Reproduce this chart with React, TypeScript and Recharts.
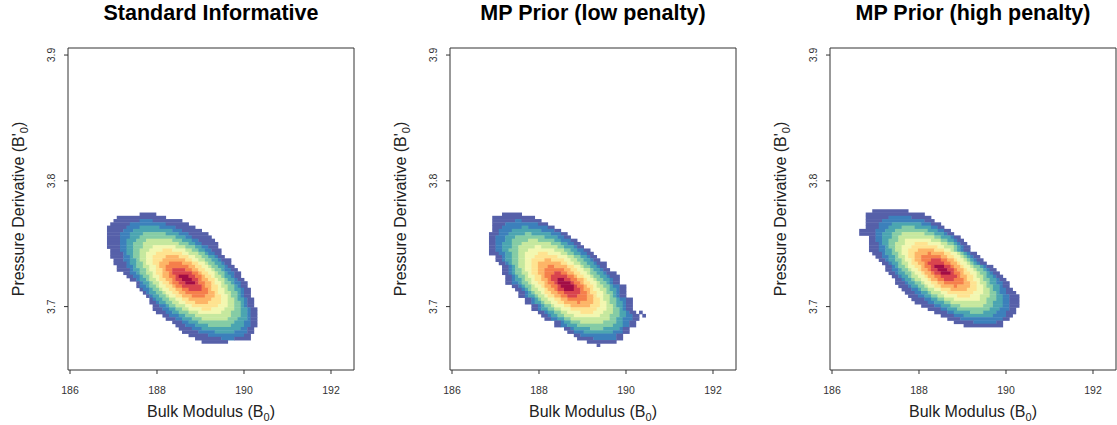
import { ScatterChart, Scatter, XAxis, YAxis, ReferenceArea } from "recharts";

const X_TICKS = [186, 188, 190, 192];
const Y_TICKS = [3.7, 3.8, 3.9];
const TITLES = ["Standard Informative", "MP Prior (low penalty)", "MP Prior (high penalty)"];

// reversed Spectral ramp, low density -> high density
const LEVEL_COLORS = [
  "#5660a9",
  "#3c80bb",
  "#4ba5b1",
  "#85cca5",
  "#c6e89e",
  "#f2f7b0",
  "#fee390",
  "#fdb567",
  "#f57f4b",
  "#d9444d",
  "#a20d45",
];

// bins of the 2d density image (left edge of col 0, top edge of row 0)
const GRID_X0 = 186.55;
const GRID_DX = 0.075;
const GRID_Y0 = 3.78;
const GRID_DY = 0.0026;

// [row, first col, [level, run length, level, run length, ...]]  level 0 = empty
type Row = [number, number, number[]];

const STANDARD_ROWS: Row[] = [
  [2, 14, [1, 5]],
  [3, 7, [1, 15]],
  [4, 6, [1, 8, 2, 4, 1, 9]],
  [5, 5, [1, 6, 2, 11, 1, 7]],
  [6, 4, [1, 6, 2, 4, 3, 6, 2, 5, 1, 6]],
  [7, 4, [1, 5, 2, 3, 3, 12, 2, 3, 1, 6]],
  [8, 4, [1, 4, 2, 3, 3, 4, 4, 7, 3, 4, 2, 3, 1, 6]],
  [9, 4, [1, 4, 2, 3, 3, 3, 4, 11, 3, 3, 2, 2, 1, 6]],
  [10, 4, [1, 4, 2, 2, 3, 3, 4, 3, 5, 8, 4, 3, 3, 3, 2, 2, 1, 5]],
  [11, 4, [1, 4, 2, 2, 3, 2, 4, 3, 5, 11, 4, 3, 3, 2, 2, 2, 1, 5]],
  [12, 4, [1, 4, 2, 2, 3, 2, 4, 3, 5, 3, 6, 7, 5, 3, 4, 3, 3, 2, 2, 2, 1, 3]],
  [13, 5, [1, 3, 2, 2, 3, 2, 4, 2, 5, 3, 6, 4, 7, 3, 6, 4, 5, 2, 4, 2, 3, 2, 2, 2, 1, 3]],
  [14, 5, [1, 4, 2, 1, 3, 2, 4, 2, 5, 2, 6, 3, 7, 8, 6, 2, 5, 3, 4, 2, 3, 1, 2, 2, 1, 2]],
  [15, 5, [1, 4, 2, 2, 3, 1, 4, 2, 5, 2, 6, 2, 7, 4, 8, 4, 7, 3, 6, 2, 5, 2, 4, 2, 3, 2, 2, 1, 1, 2]],
  [16, 6, [1, 3, 2, 2, 3, 2, 4, 1, 5, 2, 6, 2, 7, 3, 8, 7, 7, 2, 6, 2, 5, 2, 4, 2, 3, 2, 2, 1, 1, 3]],
  [17, 6, [1, 4, 2, 1, 3, 2, 4, 2, 5, 1, 6, 2, 7, 2, 8, 3, 9, 4, 8, 3, 7, 2, 6, 2, 5, 1, 4, 2, 3, 2, 2, 1, 1, 2]],
  [18, 7, [1, 3, 2, 2, 3, 1, 4, 2, 5, 2, 6, 2, 7, 1, 8, 2, 9, 7, 8, 2, 7, 2, 6, 2, 5, 1, 4, 2, 3, 2, 2, 1, 1, 2]],
  [19, 7, [1, 4, 2, 1, 3, 2, 4, 2, 5, 1, 6, 2, 7, 2, 8, 1, 9, 2, 10, 4, 9, 2, 8, 2, 7, 2, 6, 2, 5, 1, 4, 2, 3, 1, 2, 2, 1, 2]],
  [20, 9, [1, 2, 2, 2, 3, 1, 4, 2, 5, 2, 6, 1, 7, 2, 8, 2, 9, 1, 10, 6, 9, 2, 8, 1, 7, 2, 6, 2, 5, 1, 4, 2, 3, 1, 2, 2, 1, 2]],
  [21, 10, [1, 2, 2, 2, 3, 1, 4, 2, 5, 1, 6, 2, 7, 1, 8, 2, 9, 2, 10, 1, 11, 3, 10, 2, 9, 2, 8, 1, 7, 2, 6, 1, 5, 2, 4, 1, 3, 2, 2, 1, 1, 2]],
  [22, 11, [1, 2, 2, 1, 3, 2, 4, 1, 5, 2, 6, 1, 7, 2, 8, 2, 9, 1, 10, 2, 11, 3, 10, 2, 9, 1, 8, 2, 7, 2, 6, 1, 5, 2, 4, 1, 3, 2, 2, 1, 1, 2]],
  [23, 13, [1, 1, 2, 1, 3, 2, 4, 1, 5, 2, 6, 1, 7, 2, 8, 1, 9, 2, 10, 2, 11, 3, 10, 1, 9, 2, 8, 2, 7, 1, 6, 2, 5, 1, 4, 2, 3, 1, 2, 2, 1, 2]],
  [24, 13, [1, 1, 2, 2, 3, 1, 4, 2, 5, 1, 6, 2, 7, 2, 8, 1, 9, 2, 10, 6, 9, 1, 8, 2, 7, 2, 6, 1, 5, 2, 4, 2, 3, 1, 2, 1, 1, 2]],
  [25, 14, [1, 1, 2, 2, 3, 1, 4, 2, 5, 1, 6, 2, 7, 2, 8, 2, 9, 2, 10, 4, 9, 2, 8, 1, 7, 2, 6, 2, 5, 1, 4, 2, 3, 2, 2, 1, 1, 2]],
  [26, 15, [1, 1, 2, 1, 3, 2, 4, 2, 5, 1, 6, 2, 7, 2, 8, 2, 9, 7, 8, 2, 7, 1, 6, 2, 5, 2, 4, 2, 3, 1, 2, 1, 1, 2]],
  [27, 16, [1, 1, 2, 1, 3, 2, 4, 2, 5, 1, 6, 2, 7, 2, 8, 3, 9, 4, 8, 3, 7, 2, 6, 2, 5, 1, 4, 2, 3, 1, 2, 1, 1, 2]],
  [28, 17, [1, 1, 2, 1, 3, 2, 4, 2, 5, 2, 6, 2, 7, 2, 8, 7, 7, 3, 6, 2, 5, 2, 4, 1, 3, 2, 2, 1, 1, 2]],
  [29, 17, [1, 2, 2, 1, 3, 2, 4, 2, 5, 2, 6, 2, 7, 3, 8, 4, 7, 4, 6, 2, 5, 2, 4, 2, 3, 1, 2, 1, 1, 2]],
  [30, 18, [1, 2, 2, 2, 3, 1, 4, 2, 5, 3, 6, 2, 7, 8, 6, 3, 5, 2, 4, 2, 3, 1, 2, 1, 1, 2]],
  [31, 18, [1, 3, 2, 2, 3, 2, 4, 2, 5, 2, 6, 4, 7, 3, 6, 4, 5, 3, 4, 2, 3, 2, 2, 1, 1, 2]],
  [32, 19, [1, 3, 2, 2, 3, 2, 4, 3, 5, 3, 6, 7, 5, 3, 4, 3, 3, 2, 2, 1, 1, 2]],
  [33, 21, [1, 2, 2, 3, 3, 2, 4, 3, 5, 11, 4, 3, 3, 2, 2, 1, 1, 2]],
  [34, 22, [1, 3, 2, 2, 3, 3, 4, 3, 5, 8, 4, 3, 3, 3, 2, 1, 1, 2]],
  [35, 24, [1, 3, 2, 2, 3, 3, 4, 11, 3, 3, 2, 2, 1, 2]],
  [36, 25, [1, 3, 2, 3, 3, 4, 4, 7, 3, 4, 2, 2, 1, 2]],
  [37, 26, [1, 4, 2, 3, 3, 12, 2, 2, 1, 2]],
  [38, 27, [1, 5, 2, 5, 3, 6, 2, 4, 1, 2]],
  [39, 29, [1, 6, 2, 11, 1, 2]],
  [40, 31, [1, 8, 2, 4, 1, 5]],
  [41, 33, [1, 8]],
];

const LOW_PENALTY_ROWS: Row[] = [
  [2, 8, [1, 6]],
  [3, 5, [1, 13]],
  [4, 5, [1, 7, 2, 2, 1, 6]],
  [5, 5, [1, 4, 2, 10, 1, 3]],
  [6, 5, [1, 3, 2, 6, 3, 2, 2, 6, 1, 2]],
  [7, 5, [1, 2, 2, 4, 3, 9, 2, 4, 1, 2]],
  [8, 4, [1, 3, 2, 3, 3, 5, 4, 2, 3, 6, 2, 3, 1, 2]],
  [9, 4, [1, 2, 2, 3, 3, 3, 4, 9, 3, 4, 2, 2, 1, 2]],
  [10, 4, [1, 2, 2, 3, 3, 2, 4, 5, 5, 3, 4, 5, 3, 2, 2, 3, 1, 2]],
  [11, 4, [1, 2, 2, 2, 3, 3, 4, 3, 5, 9, 4, 3, 3, 2, 2, 2, 1, 2]],
  [12, 4, [1, 2, 2, 2, 3, 3, 4, 2, 5, 5, 6, 2, 5, 5, 4, 2, 3, 3, 2, 1, 1, 2]],
  [13, 4, [1, 2, 2, 2, 3, 2, 4, 3, 5, 3, 6, 8, 5, 3, 4, 2, 3, 2, 2, 2, 1, 2]],
  [14, 4, [1, 3, 2, 2, 3, 2, 4, 2, 5, 2, 6, 4, 7, 3, 6, 4, 5, 2, 4, 2, 3, 2, 2, 2, 1, 2]],
  [15, 6, [1, 2, 2, 1, 3, 2, 4, 2, 5, 2, 6, 3, 7, 7, 6, 3, 5, 2, 4, 2, 3, 2, 2, 1, 1, 2]],
  [16, 6, [1, 2, 2, 1, 3, 2, 4, 2, 5, 2, 6, 2, 7, 4, 8, 2, 7, 4, 6, 2, 5, 2, 4, 2, 3, 2, 2, 1, 1, 2]],
  [17, 7, [1, 2, 2, 1, 3, 1, 4, 2, 5, 2, 6, 2, 7, 2, 8, 7, 7, 2, 6, 2, 5, 2, 4, 2, 3, 2, 2, 1, 1, 3]],
  [18, 8, [1, 2, 2, 1, 3, 1, 4, 1, 5, 2, 6, 2, 7, 2, 8, 3, 9, 2, 8, 4, 7, 2, 6, 2, 5, 1, 4, 2, 3, 2, 2, 1, 1, 2]],
  [19, 8, [1, 2, 2, 1, 3, 1, 4, 2, 5, 1, 6, 2, 7, 2, 8, 2, 9, 6, 8, 2, 7, 2, 6, 2, 5, 2, 4, 1, 3, 2, 2, 1, 1, 2]],
  [20, 8, [1, 2, 2, 1, 3, 1, 4, 2, 5, 2, 6, 1, 7, 2, 8, 2, 9, 3, 10, 2, 9, 2, 8, 2, 7, 2, 6, 2, 5, 1, 4, 2, 3, 2, 2, 1, 1, 3]],
  [21, 9, [1, 2, 2, 1, 3, 1, 4, 2, 5, 1, 6, 2, 7, 2, 8, 1, 9, 2, 10, 5, 9, 2, 8, 1, 7, 2, 6, 2, 5, 1, 4, 2, 3, 2, 2, 1, 1, 3]],
  [22, 9, [1, 2, 2, 1, 3, 2, 4, 1, 5, 2, 6, 1, 7, 2, 8, 2, 9, 1, 10, 2, 11, 2, 10, 2, 9, 2, 8, 2, 7, 1, 6, 2, 5, 1, 4, 2, 3, 2, 2, 1, 1, 2]],
  [23, 9, [1, 2, 2, 2, 3, 1, 4, 2, 5, 1, 6, 2, 7, 2, 8, 1, 9, 2, 10, 1, 11, 4, 10, 1, 9, 2, 8, 1, 7, 2, 6, 2, 5, 1, 4, 2, 3, 1, 2, 1, 1, 2]],
  [24, 11, [1, 2, 2, 1, 3, 1, 4, 2, 5, 1, 6, 2, 7, 1, 8, 2, 9, 2, 10, 1, 11, 4, 10, 1, 9, 2, 8, 1, 7, 2, 6, 1, 5, 2, 4, 2, 3, 1, 2, 2, 1, 2]],
  [25, 12, [1, 2, 2, 1, 3, 1, 4, 1, 5, 2, 6, 2, 7, 1, 8, 2, 9, 1, 10, 2, 11, 3, 10, 2, 9, 1, 8, 2, 7, 1, 6, 2, 5, 2, 4, 1, 3, 2, 2, 1, 1, 2]],
  [26, 13, [1, 2, 2, 1, 3, 1, 4, 1, 5, 2, 6, 1, 7, 2, 8, 2, 9, 2, 10, 5, 9, 2, 8, 1, 7, 2, 6, 2, 5, 1, 4, 2, 3, 1, 2, 1, 1, 2]],
  [27, 13, [1, 2, 2, 1, 3, 2, 4, 1, 5, 2, 6, 1, 7, 2, 8, 2, 9, 2, 10, 3, 9, 3, 8, 2, 7, 1, 6, 2, 5, 2, 4, 1, 3, 1, 2, 1, 1, 2]],
  [28, 15, [1, 2, 2, 1, 3, 1, 4, 1, 5, 2, 6, 2, 7, 2, 8, 2, 9, 6, 8, 2, 7, 2, 6, 1, 5, 2, 4, 2, 3, 1, 2, 2, 1, 2]],
  [29, 15, [1, 2, 2, 1, 3, 2, 4, 1, 5, 2, 6, 2, 7, 2, 8, 4, 9, 1, 8, 4, 7, 2, 6, 2, 5, 1, 4, 2, 3, 2, 2, 1, 1, 2]],
  [30, 17, [1, 2, 2, 1, 3, 1, 4, 2, 5, 1, 6, 3, 7, 2, 8, 6, 7, 3, 6, 2, 5, 2, 4, 1, 3, 2, 2, 1, 1, 2]],
  [31, 17, [1, 2, 2, 1, 3, 2, 4, 2, 5, 2, 6, 3, 7, 8, 6, 3, 5, 2, 4, 2, 3, 1, 2, 1, 1, 2]],
  [32, 19, [1, 2, 2, 1, 3, 2, 4, 2, 5, 2, 6, 4, 7, 4, 6, 3, 5, 3, 4, 2, 3, 2, 2, 1, 1, 2, 0, 1, 1, 1]],
  [33, 20, [1, 2, 2, 1, 3, 2, 4, 2, 5, 3, 6, 8, 5, 3, 4, 3, 3, 2, 2, 2, 1, 2, 0, 1, 1, 1]],
  [34, 21, [1, 2, 2, 2, 3, 2, 4, 2, 5, 12, 4, 2, 3, 2, 2, 3, 1, 2]],
  [35, 24, [1, 2, 2, 1, 3, 2, 4, 3, 5, 7, 4, 4, 3, 2, 2, 2, 1, 2]],
  [36, 24, [1, 2, 2, 2, 3, 3, 4, 11, 3, 3, 2, 2, 1, 2]],
  [37, 27, [1, 2, 2, 1, 3, 5, 4, 4, 3, 5, 2, 1, 1, 2]],
  [38, 28, [1, 2, 2, 3, 3, 9, 2, 3, 1, 2]],
  [39, 30, [1, 2, 2, 11, 1, 2]],
  [40, 31, [1, 5, 2, 7, 1, 2]],
  [41, 34, [1, 9]],
  [42, 37, [1, 1]],
];

const HIGH_PENALTY_ROWS: Row[] = [
  [1, 5, [1, 11]],
  [2, 3, [1, 18]],
  [3, 3, [1, 7, 2, 7, 1, 6]],
  [4, 3, [1, 5, 2, 13, 1, 3]],
  [5, 3, [1, 4, 2, 4, 3, 9, 2, 3, 1, 3]],
  [6, 3, [1, 4, 2, 3, 3, 4, 4, 4, 3, 5, 2, 2, 1, 2]],
  [7, 1, [1, 5, 2, 3, 3, 3, 4, 10, 3, 3, 2, 2, 1, 2]],
  [8, 1, [1, 5, 2, 2, 3, 3, 4, 3, 5, 7, 4, 3, 3, 3, 2, 1, 1, 2]],
  [9, 4, [1, 2, 2, 2, 3, 3, 4, 2, 5, 11, 4, 2, 3, 3, 2, 1, 1, 2]],
  [10, 4, [1, 2, 2, 2, 3, 2, 4, 3, 5, 2, 6, 8, 5, 3, 4, 2, 3, 2, 2, 1, 1, 2]],
  [11, 4, [1, 3, 2, 1, 3, 2, 4, 2, 5, 3, 6, 3, 7, 4, 6, 4, 5, 2, 4, 2, 3, 1, 2, 1, 1, 2]],
  [12, 4, [1, 3, 2, 2, 3, 1, 4, 2, 5, 2, 6, 3, 7, 8, 6, 2, 5, 3, 4, 1, 3, 1, 2, 1, 1, 2]],
  [13, 4, [1, 3, 2, 2, 3, 2, 4, 1, 5, 2, 6, 2, 7, 3, 8, 5, 7, 3, 6, 2, 5, 1, 4, 1, 3, 1, 2, 1, 1, 2]],
  [14, 5, [1, 3, 2, 1, 3, 2, 4, 2, 5, 1, 6, 2, 7, 2, 8, 4, 9, 1, 8, 4, 7, 2, 6, 2, 5, 1, 4, 1, 3, 1, 2, 1, 1, 2]],
  [15, 6, [1, 2, 2, 2, 3, 2, 4, 1, 5, 2, 6, 1, 7, 2, 8, 2, 9, 6, 8, 2, 7, 2, 6, 2, 5, 1, 4, 1, 3, 1, 2, 1, 1, 2]],
  [16, 7, [1, 2, 2, 1, 3, 2, 4, 2, 5, 1, 6, 2, 7, 1, 8, 2, 9, 3, 10, 3, 9, 2, 8, 2, 7, 1, 6, 2, 5, 1, 4, 1, 3, 1, 2, 1, 1, 2]],
  [17, 8, [1, 2, 2, 1, 3, 2, 4, 1, 5, 2, 6, 1, 7, 2, 8, 2, 9, 1, 10, 5, 9, 2, 8, 2, 7, 1, 6, 2, 5, 1, 4, 1, 3, 1, 2, 1, 1, 2]],
  [18, 9, [1, 2, 2, 1, 3, 1, 4, 2, 5, 1, 6, 2, 7, 2, 8, 1, 9, 2, 10, 1, 11, 3, 10, 2, 9, 1, 8, 2, 7, 1, 6, 2, 5, 1, 4, 2, 3, 1, 2, 1, 1, 2]],
  [19, 9, [1, 2, 2, 2, 3, 1, 4, 2, 5, 1, 6, 2, 7, 1, 8, 2, 9, 1, 10, 2, 11, 3, 10, 2, 9, 1, 8, 2, 7, 1, 6, 2, 5, 1, 4, 2, 3, 1, 2, 1, 1, 2]],
  [20, 10, [1, 2, 2, 1, 3, 2, 4, 2, 5, 1, 6, 2, 7, 1, 8, 2, 9, 1, 10, 2, 11, 3, 10, 1, 9, 2, 8, 1, 7, 2, 6, 2, 5, 1, 4, 2, 3, 1, 2, 1, 1, 2]],
  [21, 11, [1, 2, 2, 1, 3, 2, 4, 1, 5, 2, 6, 2, 7, 1, 8, 2, 9, 2, 10, 5, 9, 1, 8, 2, 7, 2, 6, 1, 5, 2, 4, 1, 3, 2, 2, 1, 1, 2]],
  [22, 12, [1, 2, 2, 1, 3, 2, 4, 1, 5, 2, 6, 2, 7, 1, 8, 2, 9, 2, 10, 3, 9, 3, 8, 1, 7, 2, 6, 2, 5, 1, 4, 2, 3, 2, 2, 1, 1, 2]],
  [23, 12, [1, 3, 2, 1, 3, 2, 4, 2, 5, 1, 6, 2, 7, 2, 8, 2, 9, 6, 8, 2, 7, 2, 6, 1, 5, 2, 4, 1, 3, 2, 2, 2, 1, 2]],
  [24, 13, [1, 3, 2, 1, 3, 2, 4, 2, 5, 1, 6, 2, 7, 2, 8, 4, 9, 1, 8, 4, 7, 2, 6, 2, 5, 1, 4, 2, 3, 2, 2, 1, 1, 2]],
  [25, 14, [1, 3, 2, 2, 3, 1, 4, 2, 5, 2, 6, 2, 7, 3, 8, 5, 7, 3, 6, 2, 5, 2, 4, 1, 3, 2, 2, 2, 1, 2]],
  [26, 15, [1, 3, 2, 2, 3, 2, 4, 1, 5, 3, 6, 2, 7, 8, 6, 3, 5, 2, 4, 2, 3, 1, 2, 2, 1, 3]],
  [27, 16, [1, 3, 2, 2, 3, 2, 4, 2, 5, 2, 6, 4, 7, 4, 6, 3, 5, 3, 4, 2, 3, 2, 2, 2, 1, 3]],
  [28, 17, [1, 4, 2, 2, 3, 2, 4, 2, 5, 3, 6, 8, 5, 2, 4, 3, 3, 2, 2, 2, 1, 3]],
  [29, 18, [1, 4, 2, 2, 3, 3, 4, 2, 5, 11, 4, 2, 3, 3, 2, 2, 1, 3]],
  [30, 20, [1, 4, 2, 2, 3, 3, 4, 3, 5, 7, 4, 3, 3, 3, 2, 2, 1, 3]],
  [31, 22, [1, 4, 2, 2, 3, 3, 4, 10, 3, 3, 2, 3, 1, 2]],
  [32, 24, [1, 4, 2, 2, 3, 5, 4, 4, 3, 4, 2, 3, 1, 3]],
  [33, 26, [1, 4, 2, 3, 3, 9, 2, 4, 1, 2]],
  [34, 28, [1, 4, 2, 13, 1, 2]],
  [35, 30, [1, 6, 2, 7, 1, 2]],
  [36, 33, [1, 12]],
];

const PANEL_ROWS = [STANDARD_ROWS, LOW_PENALTY_ROWS, HIGH_PENALTY_ROWS];

const X_MIN = 185.954;
const X_MAX = 192.529;
const Y_MIN = 3.6496;
const Y_MAX = 3.9056;
const PLOT_W = 286;
const PLOT_H = 322;
const AXIS_W = 68;
const TOP = 48;
const PANEL_LEFT = [0, 382, 762];
const FONT = '"Liberation Sans", Arial, sans-serif';

const CELL_W = (GRID_DX * PLOT_W) / (X_MAX - X_MIN);
const CELL_H = (GRID_DY * PLOT_H) / (Y_MAX - Y_MIN);

interface Cell {
  x: number;
  y: number;
  n: number;
  level: number;
}

// expand run-length rows into one point per horizontal run
function toCells(rows: Row[]): Cell[] {
  const cells: Cell[] = [];
  for (const [row, start, runs] of rows) {
    let col = start;
    for (let i = 0; i < runs.length; i += 2) {
      const level = runs[i];
      const n = runs[i + 1];
      if (level > 0) {
        cells.push({
          x: GRID_X0 + (col + n / 2) * GRID_DX,
          y: GRID_Y0 - (row + 0.5) * GRID_DY,
          n,
          level,
        });
      }
      col += n;
    }
  }
  return cells;
}

function CellShape(props: any) {
  const { cx, cy, payload } = props;
  const w = payload.n * CELL_W;
  return (
    <rect
      x={cx - w / 2}
      y={cy - CELL_H / 2}
      width={w + 0.4}
      height={CELL_H + 0.4}
      fill={LEVEL_COLORS[payload.level - 1]}
    />
  );
}

function XTick({ x, y, payload }: any) {
  return (
    <text x={x} y={y + 17.5} textAnchor="middle" fontSize={10.5} fill="#333" fontFamily={FONT}>
      {payload.value}
    </text>
  );
}

function YTick({ x, y, payload }: any) {
  const tx = x - 7;
  return (
    <text
      x={tx}
      y={y}
      transform={`rotate(-90 ${tx} ${y})`}
      textAnchor="middle"
      fontSize={10.5}
      fill="#333"
      fontFamily={FONT}
    >
      {payload.value.toFixed(1)}
    </text>
  );
}

function XTitle({ viewBox }: any) {
  const { x, y, width } = viewBox;
  return (
    <text x={x + width / 2} y={y + 47} textAnchor="middle" fontSize={16} fill="#222" fontFamily={FONT}>
      Bulk Modulus (B
      <tspan fontSize={11} dy={4}>
        0
      </tspan>
      <tspan dy={-4}>)</tspan>
    </text>
  );
}

function YTitle({ viewBox }: any) {
  const { x, y, height } = viewBox;
  const tx = x + 23.5;
  const ty = y + height / 2;
  return (
    <text
      x={tx}
      y={ty}
      transform={`rotate(-90 ${tx} ${ty})`}
      textAnchor="middle"
      fontSize={16}
      fill="#222"
      fontFamily={FONT}
    >
      Pressure Derivative (B'
      <tspan fontSize={11} dy={4}>
        0
      </tspan>
      <tspan dy={-4}>)</tspan>
    </text>
  );
}

function DensityPanel({ index }: { index: number }) {
  const cells = toCells(PANEL_ROWS[index]);
  const left = PANEL_LEFT[index];
  return (
    <div style={{ position: "absolute", left, top: 0, width: AXIS_W + PLOT_W + 1, height: 425 }}>
      <div
        style={{
          position: "absolute",
          left: AXIS_W - 20,
          width: PLOT_W + 40,
          top: 0,
          textAlign: "center",
          fontFamily: FONT,
          fontWeight: "bold",
          fontSize: 21.5,
          lineHeight: "27px",
          color: "#000",
          whiteSpace: "nowrap",
        }}
      >
        {TITLES[index]}
      </div>
      <ScatterChart
        width={AXIS_W + PLOT_W + 1}
        height={425}
        margin={{ top: TOP, right: 1, bottom: 0, left: 0 }}
      >
        <XAxis
          type="number"
          dataKey="x"
          domain={[X_MIN, X_MAX]}
          ticks={X_TICKS}
          allowDataOverflow
          interval={0}
          height={425 - TOP - PLOT_H}
          axisLine={false}
          tickSize={4}
          tickLine={{ stroke: "#333" }}
          tick={<XTick />}
          label={<XTitle />}
        />
        <YAxis
          type="number"
          dataKey="y"
          domain={[Y_MIN, Y_MAX]}
          ticks={Y_TICKS}
          allowDataOverflow
          interval={0}
          width={AXIS_W}
          axisLine={false}
          tickSize={4}
          tickLine={{ stroke: "#333" }}
          tick={<YTick />}
          label={<YTitle />}
        />
        <Scatter data={cells} shape={<CellShape />} isAnimationActive={false} />
        <ReferenceArea
          x1={X_MIN}
          x2={X_MAX}
          y1={Y_MIN}
          y2={Y_MAX}
          fill="none"
          stroke="#333"
          strokeWidth={1}
          ifOverflow="visible"
        />
      </ScatterChart>
    </div>
  );
}

export default function App() {
  return (
    <div style={{ position: "relative", width: 1117, height: 425, background: "#fff", overflow: "hidden" }}>
      <style>{"body{margin:0}"}</style>
      {[0, 1, 2].map((i) => (
        <DensityPanel key={i} index={i} />
      ))}
    </div>
  );
}
